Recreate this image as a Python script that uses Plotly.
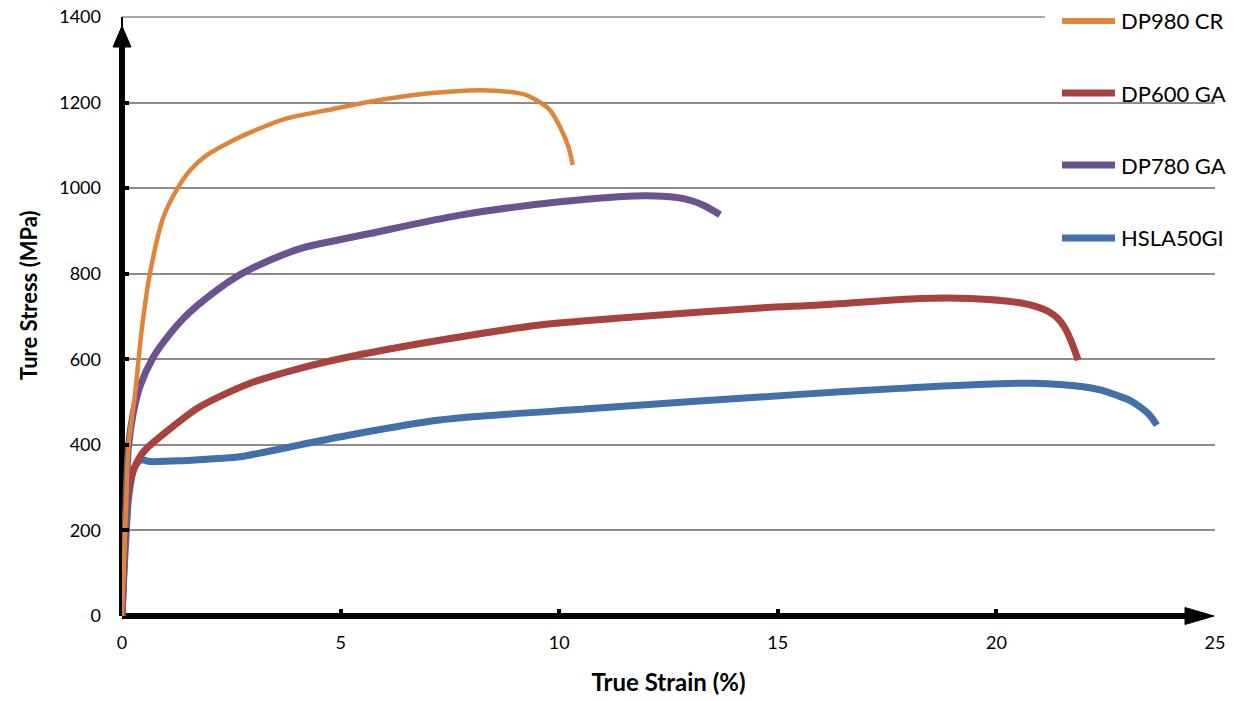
import plotly.graph_objects as go

# ---- data ----
dp980_strain = [0, 0.05, 0.10, 0.15, 0.30, 0.45, 0.64, 0.95, 1.29, 1.56, 1.94, 2.55, 3.16, 3.77, 4.83, 5.67, 6.97, 8.19, 8.87, 9.20, 9.40, 9.60, 9.79, 10.02, 10.21, 10.31]
dp980_stress = [0, 140, 275, 400, 520, 668, 801, 933, 1003, 1042, 1077, 1112, 1140, 1163, 1185, 1202, 1221, 1229, 1225, 1219, 1210, 1198, 1182, 1143, 1097, 1054]

dp600_strain = [0, 0.05, 0.10, 0.20, 0.30, 0.41, 0.53, 1.02, 1.78, 2.93, 4.07, 5.21, 7.30, 9.56, 11.85, 14.60, 15.97, 18.25, 19.40, 20.54, 20.95, 21.20, 21.40, 21.55, 21.70, 21.87]
dp600_stress = [0, 130, 250, 320, 350, 372, 388, 431, 489, 544, 579, 606, 645, 680, 700, 720, 727, 742, 742, 732, 722, 711, 696, 676, 645, 598]

dp780_strain = [0, 0.05, 0.10, 0.145, 0.25, 0.41, 0.72, 1.10, 1.40, 1.75, 2.62, 3.39, 4.15, 5.00, 5.67, 7.73, 10.02, 11.92, 12.69, 13.05, 13.30, 13.68]
dp780_stress = [0, 150, 290, 392, 470, 536, 606, 660, 695, 728, 793, 832, 861, 880, 894, 937, 968, 982, 978, 970, 960, 938]

hsla_strain = [0, 0.05, 0.10, 0.15, 0.26, 0.35, 0.45, 0.64, 1.40, 2.17, 2.70, 3.31, 4.07, 5.21, 7.27, 10.90, 15.50, 17.80, 19.32, 20.84, 21.99, 22.40, 22.75, 23.05, 23.28, 23.50, 23.67]
hsla_stress = [0, 110, 200, 275, 341, 358, 365, 361, 363, 368, 372, 384, 400, 423, 458, 486, 518, 532, 540, 544, 536, 528, 516, 504, 489, 470, 446]

series_names = ["DP980 CR", "DP600 GA", "DP780 GA", "HSLA50GI"]
series_colors = ["#E0843A", "#A8423F", "#6D5290", "#4170AA"]
series_widths = [4.5, 7, 7, 7]

x_ticks = [0, 5, 10, 15, 20, 25]
y_ticks = [0, 200, 400, 600, 800, 1000, 1200, 1400]

W, H = 1238, 701
ML, MR, MT, MB = 122, 23, 17, 85
PW, PH = W - ML - MR, H - MT - MB
X0PX, Y0PX = ML, H - MB   # screen pixel of the plot origin

fig = go.Figure()
data = [(hsla_strain, hsla_stress, 3), (dp600_strain, dp600_stress, 1),
        (dp780_strain, dp780_stress, 2), (dp980_strain, dp980_stress, 0)]
for xs, ys, i in data:
    fig.add_trace(go.Scatter(
        x=xs, y=ys, mode="lines", name=series_names[i],
        line=dict(color=series_colors[i], width=series_widths[i], shape="spline", smoothing=0.8),
        showlegend=False,
    ))

def px_x(p):
    return (p - X0PX) / PW

def px_y(p):
    return (Y0PX - p) / PH

GRID = "#8C8C8C"
shapes = []
# top gridline (plotly skips the one on the plot edge); it ends where the legend box starts
shapes.append(dict(type="line", xref="paper", yref="paper", x0=0, x1=px_x(1045), y0=1, y1=1,
                   line=dict(color=GRID, width=1.5), layer="between"))
# axes with arrowheads
shapes.append(dict(type="line", xref="paper", yref="paper", x0=0, x1=0, y0=0, y1=px_y(45),
                   line=dict(color="black", width=6), layer="between"))
shapes.append(dict(type="line", xref="paper", yref="paper", x0=0, x1=0, y0=px_y(45), y1=1,
                   line=dict(color="black", width=2), layer="between"))
shapes.append(dict(type="path", xref="paper", yref="paper",
                   path=f"M {-9/PW},{px_y(47)} L {9/PW},{px_y(47)} L 0,{px_y(26)} Z",
                   fillcolor="black", line=dict(color="black", width=1), layer="above"))
shapes.append(dict(type="line", xref="paper", yref="paper", x0=0, x1=px_x(1187), y0=0, y1=0,
                   line=dict(color="black", width=6), layer="between"))
shapes.append(dict(type="path", xref="paper", yref="paper",
                   path=f"M {px_x(1185)},{8.5/PH} L {px_x(1185)},{-8.5/PH} L {px_x(1214)},0 Z",
                   fillcolor="black", line=dict(color="black", width=1), layer="above"))

# legend box
shapes.append(dict(type="rect", xref="paper", yref="paper",
                   x0=px_x(1045), x1=px_x(1240), y0=px_y(276), y1=px_y(-2),
                   fillcolor="white", line=dict(width=0), layer="between"))
leg_y = [21, 93, 165, 238]
annotations = []
for i, name in enumerate(series_names):
    shapes.append(dict(type="line", xref="paper", yref="paper",
                       x0=px_x(1062), x1=px_x(1115), y0=px_y(leg_y[i]), y1=px_y(leg_y[i]),
                       line=dict(color=series_colors[i], width=series_widths[i] if i else 6),
                       layer="above"))
    annotations.append(dict(xref="paper", yref="paper", x=px_x(1119), y=px_y(leg_y[i]),
                            text=name, showarrow=False, xanchor="left", yanchor="middle",
                            font=dict(size=22, color="black", family="Lato")))

# y-axis title placed as annotation (centred slightly above the plot middle, as in the reference)
annotations.append(dict(xref="paper", yref="paper", x=px_x(28), y=px_y(295),
                        text="<b>Ture Stress (MPa)</b>", showarrow=False, textangle=-90,
                        xanchor="center", yanchor="middle",
                        font=dict(size=22, color="black", family="Lato")))

fig.update_layout(
    width=W, height=H,
    margin=dict(l=ML, r=MR, t=MT, b=MB, pad=0),
    plot_bgcolor="white", paper_bgcolor="white",
    font=dict(family="Lato", size=18, color="black"),
    shapes=shapes, annotations=annotations,
    xaxis=dict(range=[0, 25], tickvals=x_ticks, ticktext=[str(v) for v in x_ticks],
               showgrid=False, zeroline=False, showline=False, automargin=False,
               ticks="inside", ticklen=7, tickwidth=4, tickcolor="black",
               ticklabelstandoff=14,
               title=dict(text="<b>True Strain (%)</b>", font=dict(size=24), standoff=22)),
    yaxis=dict(range=[0, 1400], tickvals=y_ticks, ticktext=[str(v) for v in y_ticks],
               showgrid=True, gridcolor=GRID, gridwidth=1.5, zeroline=False, showline=False,
               automargin=False,
               ticks="inside", ticklen=7, tickwidth=4, tickcolor="black",
               ticklabelstandoff=20),
)

# remove the default page margin so the figure sits at the window's top-left corner
fig.write_html("out.html", config={"displayModeBar": False},
               post_script="document.body.style.margin='0';")
